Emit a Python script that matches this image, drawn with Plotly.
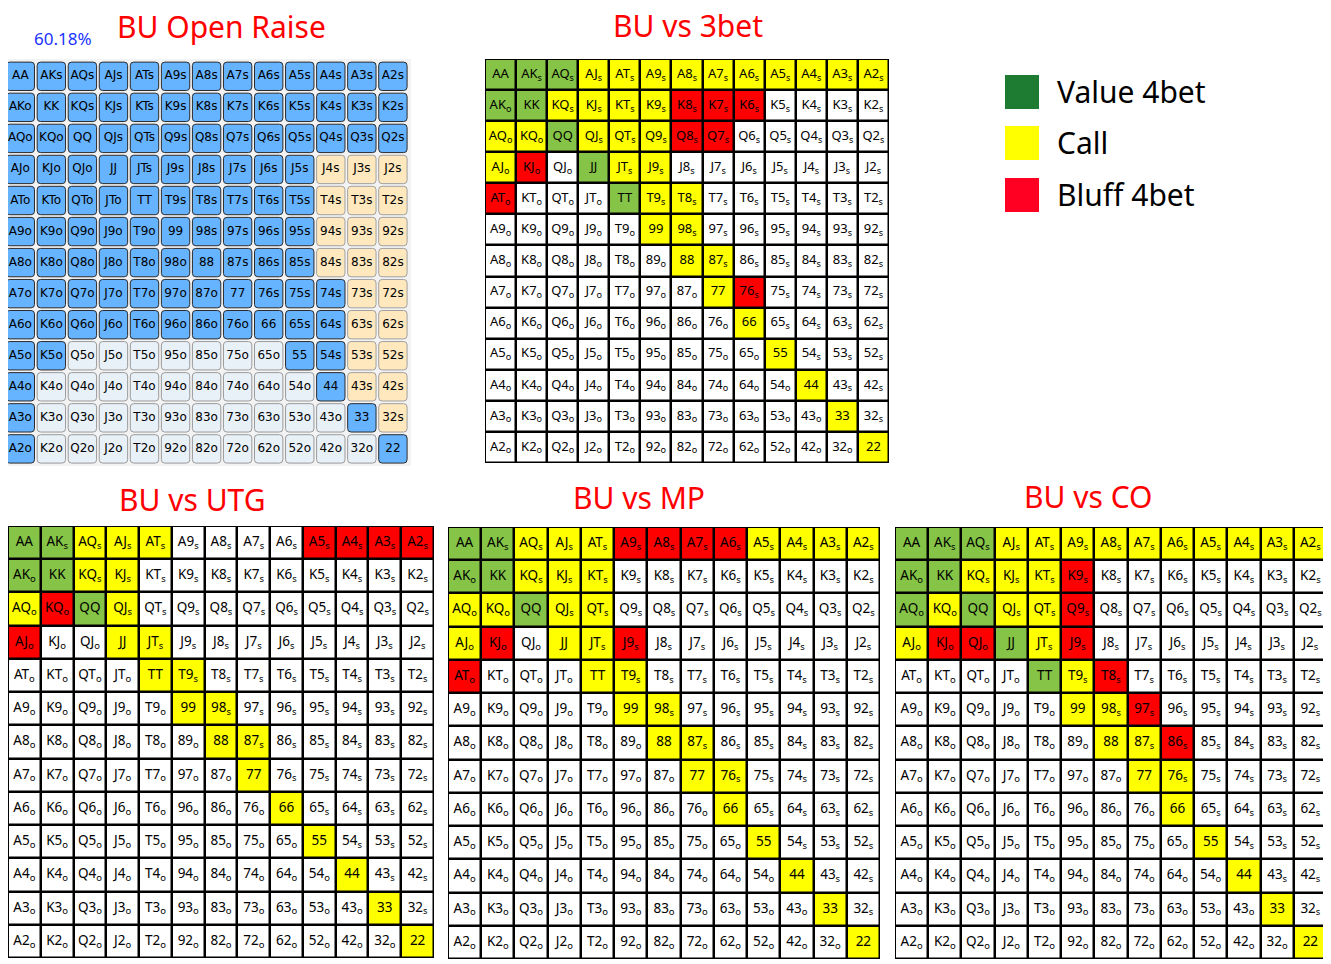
import plotly.graph_objects as go

# the page puts the plot 8px in from the top-left corner, so the figure is
# 8px smaller and every pixel position is shifted back by that much
OX, OY = 8, 8
W, H = 1331 - OX, 964 - OY
RANKS = "AKQJT98765432"

# BU open raise chart: B = raise (blue), P = peach (mixed), F = fold
open_raise = [
    "BBBBBBBBBBBBB",
    "BBBBBBBBBBBBB",
    "BBBBBBBBBBBBB",
    "BBBBBBBBBBPPP",
    "BBBBBBBBBBPPP",
    "BBBBBBBBBBPPP",
    "BBBBBBBBBBPPP",
    "BBBBBBBBBBBPP",
    "BBBBBBBBBBBPP",
    "BBFFFFFFFBBPP",
    "BFFFFFFFFFBPP",
    "BFFFFFFFFFFBP",
    "BFFFFFFFFFFFB",
]

# G = value 4bet, Y = call, R = bluff 4bet, W = fold
vs_3bet = [
    "GGGYYYYYYYYYY",
    "GGYYYYRRRWWWW",
    "YYGYYYRRWWWWW",
    "YRWGYYWWWWWWW",
    "RWWWGYYWWWWWW",
    "WWWWWYYWWWWWW",
    "WWWWWWYYWWWWW",
    "WWWWWWWYRWWWW",
    "WWWWWWWWYWWWW",
    "WWWWWWWWWYWWW",
    "WWWWWWWWWWYWW",
    "WWWWWWWWWWWYW",
    "WWWWWWWWWWWWY",
]

vs_utg = [
    "GGYYYWWWWRRRR",
    "GGYYWWWWWWWWW",
    "YRGYWWWWWWWWW",
    "RWWYYWWWWWWWW",
    "WWWWYYWWWWWWW",
    "WWWWWYYWWWWWW",
    "WWWWWWYYWWWWW",
    "WWWWWWWYWWWWW",
    "WWWWWWWWYWWWW",
    "WWWWWWWWWYWWW",
    "WWWWWWWWWWYWW",
    "WWWWWWWWWWWYW",
    "WWWWWWWWWWWWY",
]

vs_mp = [
    "GGYYYRRRRYYYY",
    "GGYYYWWWWWWWW",
    "YYGYYWWWWWWWW",
    "YRWYYRWWWWWWW",
    "RWWWYYWWWWWWW",
    "WWWWWYYWWWWWW",
    "WWWWWWYYWWWWW",
    "WWWWWWWYYWWWW",
    "WWWWWWWWYWWWW",
    "WWWWWWWWWYWWW",
    "WWWWWWWWWWYWW",
    "WWWWWWWWWWWYW",
    "WWWWWWWWWWWWY",
]

vs_co = [
    "GGGYYYYYYYYYY",
    "GGYYYRWWWWWWW",
    "GYGYYRWWWWWWW",
    "YRRGYRWWWWWWW",
    "WWWWGYRWWWWWW",
    "WWWWWYYRWWWWW",
    "WWWWWWYYRWWWW",
    "WWWWWWWYYWWWW",
    "WWWWWWWWYWWWW",
    "WWWWWWWWWYWWW",
    "WWWWWWWWWWYWW",
    "WWWWWWWWWWWYW",
    "WWWWWWWWWWWWY",
]

# label typos as printed in the source charts
label_fixes = {(6, 5): "89"}

legend_labels = ["Value 4bet", "Call", "Bluff 4bet"]
legend_codes = ["V", "Y", "R"]

open_colors = {"B": ("#66b3ff", "#2b2b2b"), "P": ("#ffe8bd", "#a0a0a0"), "F": ("#e8f0f8", "#9a9a9a")}
codes = {"W": 0, "Y": 1, "G": 2, "R": 3}
action_colors = ["#ffffff", "#ffff00", "#85c446", "#ff0000"]
legend_colors = {"V": "#1e7b32", "Y": "#ffff00", "R": "#ff0022"}


def hand(r, c, fancy):
    if r == c:
        return RANKS[r] + RANKS[c]
    if c > r:
        base, suf = RANKS[r] + RANKS[c], "s"
    else:
        base, suf = RANKS[c] + RANKS[r], "o"
        if fancy:
            base = label_fixes.get((r, c), base)
    return base + ("<sub>%s</sub>" % suf if fancy else suf)


def xdom(a, b):
    return [max(a - OX, 0) / W, min(b - OX, W) / W]


def ydom(top, bottom):
    return [1 - min(bottom - OY, H) / H, 1 - max(top - OY, 0) / H]


def hide(**kw):
    return dict(visible=False, showgrid=False, zeroline=False, fixedrange=True, **kw)


fig = go.Figure()
shapes = []
annotations = []

# --- grid 1: BU open raise (rounded cells on a grey panel) ---
panel_x, panel_y = (8, 411), (59, 466)       # panel edges in page px
cell0_x, cell0_y, pitch = 20.3, 76.3, 31.05  # first cell centre, cell pitch
rng_x = [(panel_x[0] - cell0_x) / pitch, (panel_x[1] - cell0_x) / pitch]
rng_y = [(panel_y[1] - cell0_y) / pitch, (panel_y[0] - cell0_y) / pitch]

xs, ys, labels = [], [], []
shapes.append(dict(type="rect", xref="x", yref="y", x0=rng_x[0], x1=rng_x[1], y0=rng_y[1], y1=rng_y[0],
                   fillcolor="#f3f3f3", line=dict(width=0), layer="below"))
h, rad = 0.457, 0.11
for r in range(13):
    for c in range(13):
        fill, edge = open_colors[open_raise[r][c]]
        x0, x1, y0, y1 = c - h, c + h, r - h, r + h
        path = (f"M {x0+rad},{y0} L {x1-rad},{y0} Q {x1},{y0} {x1},{y0+rad} "
                f"L {x1},{y1-rad} Q {x1},{y1} {x1-rad},{y1} L {x0+rad},{y1} "
                f"Q {x0},{y1} {x0},{y1-rad} L {x0},{y0+rad} Q {x0},{y0} {x0+rad},{y0} Z")
        shapes.append(dict(type="path", path=path, xref="x", yref="y", fillcolor=fill,
                           line=dict(color=edge, width=1), layer="below"))
        xs.append(c)
        ys.append(r)
        labels.append(hand(r, c, False))
fig.add_trace(go.Scatter(x=xs, y=ys, text=labels, mode="text", xaxis="x", yaxis="y",
                         textfont=dict(family="DejaVu Sans", size=12, color="black"),
                         hoverinfo="skip", showlegend=False))

# --- grids 2-5: action charts ---
grids = [
    (vs_3bet, "2", (485, 889), (59, 463), 13),
    (vs_utg, "3", (2, 434), (526, 958), 13.5),
    (vs_mp, "4", (448, 880), (527, 959), 13.5),
    (vs_co, "5", (895, 1327), (527, 959), 13.5),
]
for rows, k, _, _, fsize in grids:
    z = [[codes[ch] for ch in row] for row in rows]
    shapes.append(dict(type="rect", xref="x" + k, yref="y" + k, x0=-0.5, x1=12.5, y0=-0.5, y1=12.5,
                       fillcolor="black", line=dict(color="black", width=2), layer="below"))
    scale = []
    for i, col in enumerate(action_colors):
        scale += [[i / 4, col], [(i + 1) / 4, col]]
    fig.add_trace(go.Heatmap(z=z, x=list(range(13)), y=list(range(13)), zmin=-0.5, zmax=3.5,
                             colorscale=scale, showscale=False, xgap=2.5, ygap=2.5,
                             hoverinfo="skip", xaxis="x" + k, yaxis="y" + k))
    xs, ys, labels = [], [], []
    for r in range(13):
        for c in range(13):
            xs.append(c)
            ys.append(r)
            labels.append(hand(r, c, True))
    fig.add_trace(go.Scatter(x=xs, y=ys, text=labels, mode="text", xaxis="x" + k, yaxis="y" + k,
                             textfont=dict(family="Noto Sans", size=fsize, color="black"),
                             hoverinfo="skip", showlegend=False))

# --- legend ---
fig.add_trace(go.Scatter(x=[22, 22, 22], y=[22, 73, 125], mode="markers", xaxis="x6", yaxis="y6",
                         marker=dict(symbol="square", size=34,
                                     color=[legend_colors[c] for c in legend_codes], line=dict(width=0)),
                         hoverinfo="skip", showlegend=False))
for lab, yy in zip(legend_labels, [22, 73, 125]):
    annotations.append(dict(x=55, y=yy, xref="x6", yref="y6", text=lab, showarrow=False,
                            xanchor="left", yanchor="middle",
                            font=dict(family="Noto Sans", size=30, color="black")))

# --- titles ---
titles = [("BU Open Raise", 221, 26), ("BU vs 3bet", 688, 25), ("BU vs UTG", 192, 500),
          ("BU vs MP", 639, 497), ("BU vs CO", 1088, 496)]
for txt, tx, ty in titles:
    annotations.append(dict(x=(tx - OX) / W, y=1 - (ty - OY) / H, xref="paper", yref="paper",
                            text=txt, showarrow=False, xanchor="center", yanchor="middle",
                            font=dict(family="Noto Sans", size=30, color="#ff0000")))
annotations.append(dict(x=(63 - OX) / W, y=1 - (38 - OY) / H, xref="paper", yref="paper",
                        text="60.18%", showarrow=False, xanchor="center", yanchor="middle",
                        font=dict(family="Noto Sans", size=17, color="#1a33ff")))

layout = dict(width=W, height=H, margin=dict(l=0, r=0, t=0, b=0),
              paper_bgcolor="white", plot_bgcolor="rgba(0,0,0,0)",
              shapes=shapes, annotations=annotations, showlegend=False)
layout["xaxis"] = hide(domain=xdom(*panel_x), range=rng_x)
layout["yaxis"] = hide(domain=ydom(*panel_y), range=rng_y)
for _, k, (xa, xb), (ya, yb), _ in grids:
    layout["xaxis" + k] = hide(domain=xdom(xa, xb), range=[-0.5, 12.5])
    layout["yaxis" + k] = hide(domain=ydom(ya, yb), range=[12.5, -0.5])
layout["xaxis6"] = hide(domain=xdom(1000, 1230), range=[0, 230])
layout["yaxis6"] = hide(domain=ydom(70, 215), range=[145, 0])
fig.update_layout(**layout)

fig.write_html("out.html")
